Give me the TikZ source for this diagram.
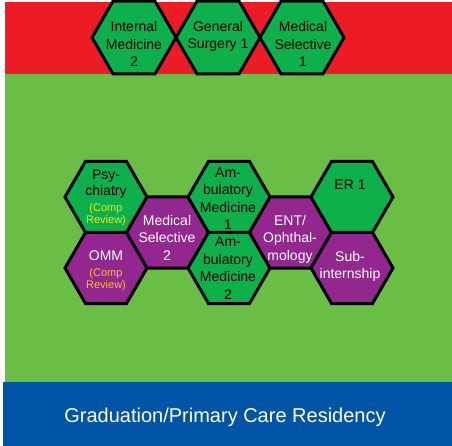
\documentclass[tikz,border=0pt]{standalone}
\usepackage{fontspec}
\setmainfont{Liberation Sans}
\definecolor{bandred}{HTML}{ED1C24}
\definecolor{bandgreen}{HTML}{6ABD45}
\definecolor{bandblue}{HTML}{0054A6}
\definecolor{hexgreen}{HTML}{0DB04B}
\definecolor{hexpurple}{HTML}{92278F}
\definecolor{compyelA}{HTML}{F0E614}
\definecolor{compyelB}{HTML}{F7C22E}
\newcommand\hexat[3]{\draw[#1] (#2) +(0:#3) -- +(60:#3) -- +(120:#3) -- +(180:#3) -- +(240:#3) -- +(300:#3) -- cycle;}
\newcommand\comptxt[1]{\fontsize{11}{12}\selectfont\color{#1}}
\begin{document}
\begin{tikzpicture}[x=1pt,y=-1pt,
  hexg/.style={fill=hexgreen,draw=black,line width=3pt,line join=miter},
  hexp/.style={fill=hexpurple,draw=black,line width=3pt,line join=miter},
  lbl/.style={align=center,inner sep=0pt,font=\fontsize{14}{17.5}\selectfont},
  lblw/.style={lbl,text=white},
  lblk/.style={lbl,text=black},
  lbltight/.style={font=\fontsize{14}{16}\selectfont}]
\useasboundingbox (0,0) rectangle (452,446);
% bands
\fill[bandred] (5,2) rectangle (452,74);
\fill[bandgreen] (5,74) rectangle (452,382);
\fill[bandblue] (3,382) rectangle (452,446);
% hexagon centres
\coordinate (c-im2) at (134,37.5);
\coordinate (c-gs1) at (218,37.5);
\coordinate (c-ms1) at (302,37.5);
\coordinate (c-psy) at (106,197);
\coordinate (c-omm) at (106,268);
\coordinate (c-ms2) at (167.5,232.5);
\coordinate (c-am1) at (229,197);
\coordinate (c-am2) at (229,268);
\coordinate (c-ent) at (290.5,232.5);
\coordinate (c-er1) at (352,197);
\coordinate (c-sub) at (352,268);
% hexagons
\hexat{hexg}{c-im2}{42}
\hexat{hexg}{c-gs1}{42}
\hexat{hexg}{c-ms1}{42}
\hexat{hexg}{c-psy}{41}
\hexat{hexp}{c-omm}{41}
\hexat{hexp}{c-ms2}{41}
\hexat{hexg}{c-am1}{41}
\hexat{hexg}{c-am2}{41}
\hexat{hexp}{c-ent}{41}
\hexat{hexg}{c-er1}{41}
\hexat{hexp}{c-sub}{41}
% labels
\node[lblk] (im2) at (134,44.2) {Internal\\Medicine\\2};
\node[lblk] (gs1) at (218,36.5) {General\\Surgery 1};
\node[lblk] (ms1) at (303,44) {Medical\\Selective\\1};
\node[lblk,lbltight] (psy) at (106,198) {Psy-\\chiatry\\\comptxt{compyelA}(Comp\\[-4pt]\comptxt{compyelA}Review)};
\node[lblw,lbltight] (omm) at (106,271) {OMM\\\comptxt{compyelB}(Comp\\[-4pt]\comptxt{compyelB}Review)};
\node[lblw] (ms2) at (167,237.5) {Medical\\Selective\\2};
\node[lblk] (am1) at (228,198.5) {Am-\\bulatory\\Medicine\\1};
\node[lblk] (am2) at (228,268) {Am-\\bulatory\\Medicine\\2};
\node[lblw] (ent) at (290,239) {ENT/\\Ophthal-\\mology};
\node[lblk] (er1) at (350,185) {ER 1};
\node[lblw] (sub) at (350,266.5) {Sub-\\internship};
\node[inner sep=0pt,text=white,font=\fontsize{20}{24}\selectfont] (grad) at (225,417.5) {Graduation/Primary Care Residency};
\end{tikzpicture}
\end{document}
